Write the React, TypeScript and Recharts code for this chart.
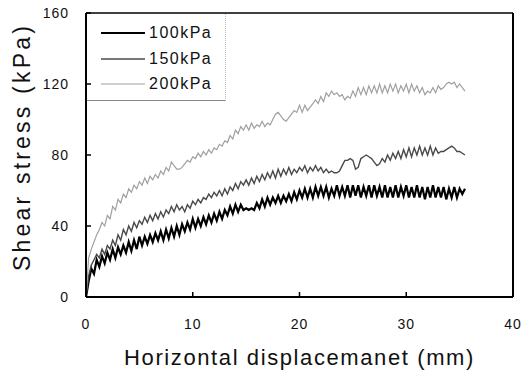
import { LineChart, Line, XAxis, YAxis, ReferenceLine, Legend } from 'recharts';

// sampled every 0.25 mm of horizontal displacement, 0 .. 35.5 mm
const STEP = 0.25;

const stress100 = [
  0, 9, 16, 13, 21, 17, 23, 19, 25, 21,
  27, 22, 28, 24, 29, 25, 31, 26, 32, 27,
  34, 29, 34, 30, 35, 31, 36, 32, 37, 32,
  38, 33, 39, 34, 40, 35, 41, 37, 42, 38,
  44, 39, 44, 40, 45, 41, 46, 42, 47, 43,
  48, 44, 49, 46, 51, 47, 52, 48, 52, 49,
  50, 49, 50, 49, 53, 50, 55, 51, 56, 52,
  56, 53, 57, 53, 57, 54, 58, 54, 59, 55,
  60, 56, 61, 56, 61, 56, 62, 57, 62, 57,
  62, 56, 61, 57, 63, 57, 62, 57, 63, 56,
  63, 57, 63, 56, 62, 57, 63, 56, 63, 57,
  62, 56, 63, 56, 62, 56, 63, 56, 62, 57,
  63, 56, 62, 56, 63, 56, 62, 55, 62, 56,
  63, 56, 62, 56, 62, 55, 61, 56, 62, 56,
  61, 58, 61,
];

const stress150 = [
  0, 12, 18, 21, 24, 22, 27, 24, 29, 27,
  32, 29, 35, 32, 38, 35, 40, 37, 42, 39,
  43, 41, 45, 42, 46, 43, 47, 44, 48, 45,
  49, 47, 51, 48, 52, 49, 51, 48, 52, 50,
  54, 52, 55, 53, 56, 55, 58, 56, 59, 57,
  60, 57, 61, 58, 62, 60, 64, 61, 65, 63,
  66, 63, 67, 64, 68, 65, 69, 66, 70, 67,
  71, 67, 72, 68, 72, 69, 73, 69, 72, 70,
  73, 71, 74, 70, 73, 71, 74, 71, 73, 70,
  72, 70, 71, 70, 70, 71, 74, 77, 77, 78,
  77, 72, 73, 78, 79, 80, 79, 78, 76, 74,
  75, 78, 76, 80, 77, 81, 78, 82, 78, 83,
  79, 84, 79, 84, 80, 85, 80, 84, 80, 85,
  80, 84, 81, 82, 82, 83, 84, 85, 84, 82,
  82, 81, 80,
];

const stress200 = [
  0, 22, 27, 31, 35, 38, 42, 40, 46, 44,
  51, 49, 55, 53, 58, 56, 61, 59, 63, 61,
  65, 63, 67, 64, 68, 66, 69, 67, 71, 69,
  73, 71, 76, 74, 72, 72, 73, 75, 77, 76,
  79, 78, 81, 79, 82, 80, 83, 81, 84, 83,
  86, 85, 88, 87, 91, 89, 94, 92, 96, 94,
  97, 94, 98, 95, 97, 96, 99, 96, 98, 97,
  100, 103, 104, 102, 100, 99, 101, 103, 105, 104,
  108, 104, 108, 105, 107, 109, 111, 109, 113, 110,
  115, 113, 116, 114, 115, 113, 114, 111, 113, 112,
  116, 113, 118, 114, 118, 114, 119, 115, 119, 115,
  120, 115, 119, 115, 120, 116, 120, 115, 119, 116,
  120, 115, 120, 116, 119, 115, 118, 114, 116, 115,
  118, 115, 119, 117, 118, 120, 121, 120, 121, 118,
  120, 118, 116,
];

const xTicks = [0, 10, 20, 30, 40];
const yTicks = [0, 40, 80, 120, 160];

const SERIES = [
  { key: 's100', name: '100kPa', color: '#000000', width: 2.2 },
  { key: 's150', name: '150kPa', color: '#4a4a4a', width: 1.4 },
  { key: 's200', name: '200kPa', color: '#a0a0a0', width: 1.2 },
];

const data = stress100.map((v, i) => ({
  x: i * STEP,
  s100: v,
  s150: stress150[i],
  s200: stress200[i],
}));

const FONT = '"Liberation Sans", Arial, sans-serif';

function LegendBox() {
  return (
    <div
      style={{
        width: 139,
        height: 87,
        boxSizing: 'border-box',
        borderRight: '1px dotted #bbb',
        borderBottom: '1px solid #888',
        fontFamily: FONT,
        fontSize: 16,
        letterSpacing: 1.5,
        color: '#111',
        position: 'relative',
      }}
    >
      {SERIES.map((s, i) => (
        <div
          key={s.key}
          style={{ position: 'absolute', left: 14, top: 9 + i * 25.5, height: 20, display: 'flex', alignItems: 'center' }}
        >
          <svg width={44} height={6} style={{ marginRight: 4 }}>
            <line x1={0} y1={3} x2={44} y2={3} stroke={s.color} strokeWidth={s.width} />
          </svg>
          <span>{s.name}</span>
        </div>
      ))}
    </div>
  );
}

export default function App() {
  const tickStyle = { fontSize: 14, fill: '#111', fontFamily: FONT, letterSpacing: 1 };
  return (
    <div style={{ position: 'absolute', left: 0, top: 0, width: 522, height: 378, background: '#fff' }}>
      <LineChart width={522} height={378} data={data} margin={{ top: 13, right: 9, left: 0, bottom: 0 }}>
        <XAxis
          dataKey="x"
          type="number"
          domain={[0, 40]}
          ticks={xTicks}
          height={81}
          tickSize={-5}
          tickMargin={27}
          axisLine={{ stroke: '#000', strokeWidth: 2 }}
          tickLine={{ stroke: '#000', strokeWidth: 1.5 }}
          tick={tickStyle}
          label={{
            content: ({ viewBox }: any) => (
              <text
                x={viewBox.x + viewBox.width / 2}
                y={365}
                textAnchor="middle"
                fontFamily={FONT}
                fontSize={22}
                letterSpacing={1.6}
                fill="#111"
              >
                Horizontal displacemanet (mm)
              </text>
            ),
          }}
        />
        <YAxis
          type="number"
          domain={[0, 160]}
          ticks={yTicks}
          width={86}
          tickSize={-5}
          tickMargin={22}
          axisLine={{ stroke: '#000', strokeWidth: 2 }}
          tickLine={{ stroke: '#000', strokeWidth: 1.5 }}
          tick={tickStyle}
          label={{
            content: () => (
              <text
                x={22}
                y={147}
                transform={`rotate(-90, 22, 147)`}
                textAnchor="middle"
                dominantBaseline="central"
                fontFamily={FONT}
                fontSize={23}
                letterSpacing={3.2}
                fill="#111"
              >
                Shear stress (kPa)
              </text>
            ),
          }}
        />
        <ReferenceLine y={160} stroke="#000" strokeWidth={1.5} />
        <ReferenceLine x={40} stroke="#000" strokeWidth={2} />
        <Legend
          layout="vertical"
          align="center"
          verticalAlign="middle"
          content={() => <LegendBox />}
          wrapperStyle={{ left: 87, top: 14, width: 139, height: 87 }}
        />
        {SERIES.map((s) => (
          <Line
            key={s.key}
            dataKey={s.key}
            name={s.name}
            stroke={s.color}
            strokeWidth={s.width}
            dot={false}
            type="linear"
            isAnimationActive={false}
          />
        ))}
      </LineChart>
    </div>
  );
}
